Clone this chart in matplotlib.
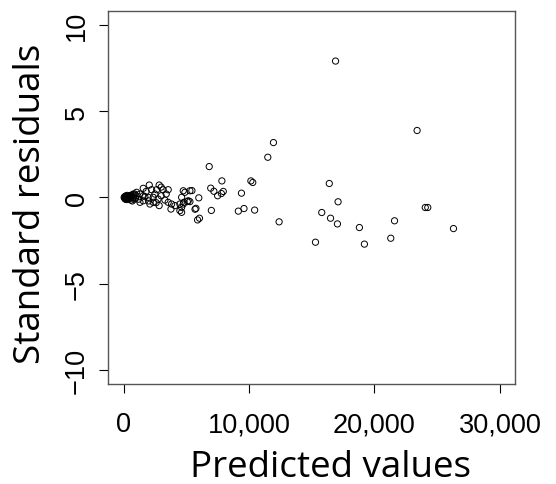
import matplotlib
matplotlib.use("Agg")
import matplotlib.pyplot as plt

# predicted values (thousands) and standardized residuals
pred_k = [
    # dense blob near zero
    0.05, 0.1, 0.1, 0.15, 0.2, 0.25, 0.3, 0.35, 0.4, 0.45, 0.5, 0.55, 0.6, 0.65,
    0.7, 0.75, 0.8, 0.85, 0.2, 0.3, 0.4, 0.5, 0.6, 0.15, 0.25, 0.9, 0.95, 1.0,
    # left cluster
    2.05, 2.84, 1.57, 2.24, 2.64, 3.16, 3.56, 1.04, 1.31, 1.57, 0.51, 0.77,
    1.97, 2.37, 2.76, 3.56, 3.83, 4.1, 1.31, 1.57, 2.1, 2.37, 2.84, 4.49,
    4.81, 5.16, 4.63, 4.89, 4.76, 4.49, 4.63, 3.78, 1.8, 2.5, 3.0, 3.3,
    1.2, 2.0, 2.6, 1.7, 3.0, 3.4,
    # middle
    6.83, 7.84, 6.95, 7.95, 7.8, 7.5, 7.2, 9.4, 6.0, 5.45, 5.29, 5.08, 5.29,
    4.76, 4.63, 9.15, 9.6, 5.7, 7.0, 6.05, 5.9, 5.77,
    # right
    16.9, 23.4, 11.95, 11.5, 10.15, 10.3, 16.4, 17.1, 10.45, 15.8, 16.5, 17.05,
    12.4, 18.8, 15.3, 19.2, 21.3, 21.6, 24.05, 24.25, 26.3,
]
std_resid = [
    0.0, 0.05, -0.05, 0.02, -0.02, 0.06, -0.08, 0.03, -0.1, 0.08, -0.04, 0.12, -0.15, 0.05,
    -0.2, 0.15, 0.0, -0.1, 0.1, 0.12, 0.0, 0.1, 0.02, -0.1, -0.12, 0.2, -0.05, 0.1,
    0.72, 0.72, 0.53, 0.45, 0.45, 0.45, 0.45, 0.3, 0.2, 0.1, 0.1, 0.2,
    0.01, 0.01, -0.09, -0.28, -0.38, -0.47, -0.28, -0.19, -0.38, -0.28, -0.47, -0.38,
    -0.28, -0.19, 0.01, 0.3, 0.39, -0.76, -0.86, -0.67, 0.35, 0.2, 0.1, -0.15,
    -0.1, -0.2, -0.3, 0.05, 0.6, 0.2,
    1.79, 0.96, 0.54, 0.35, 0.23, 0.1, 0.36, 0.25, -0.02, 0.4, -0.24, -0.24, 0.39,
    -0.38, -0.57, -0.79, -0.64, -0.68, -0.75, -1.2, -1.3, -0.63,
    7.9, 3.88, 3.18, 2.33, 0.96, 0.87, 0.81, -0.25, -0.73, -0.87, -1.2, -1.53,
    -1.41, -1.74, -2.59, -2.7, -2.36, -1.35, -0.58, -0.58, -1.8,
]

x_ticks = [0, 10000, 20000, 30000]
x_tick_labels = ["0", "10,000", "20,000", "30,000"]
y_ticks = [-10, -5, 0, 5, 10]
y_tick_labels = ["\u221210", "\u22125", "0", "5", "10"]

pred = [v * 1000 for v in pred_k]

fig = plt.figure(figsize=(5.56, 4.85), dpi=100)
ax = fig.add_axes([0.1951, 0.2062, 0.7311, 0.7691])

ax.scatter(pred, std_resid, s=20, facecolors="none", edgecolors="black", linewidths=0.7)

ax.set_xlim(-1200, 31200)
ax.set_ylim(-10.8, 10.8)

ax.set_xticks(x_ticks)
ax.set_xticklabels(x_tick_labels, fontfamily="Liberation Sans", fontsize=19.5)
ax.set_yticks(y_ticks)
ax.set_yticklabels(y_tick_labels, fontfamily="Liberation Sans", fontsize=19.5,
                   rotation=90, va="center", ha="right")

ax.tick_params(axis="x", direction="out", length=6.5, width=0.8, pad=13)
ax.tick_params(axis="y", direction="out", length=6.5, width=0.8, pad=7)

for sp in ax.spines.values():
    sp.set_color("#555555")
    sp.set_linewidth(1.0)

fig.text(331 / 556, 1 - 477 / 485, "Predicted values", fontfamily="Open Sans",
         fontsize=26.5, ha="center", va="baseline", rotation_mode="anchor")
fig.text(40 / 556, 1 - 204 / 485, "Standard residuals", fontfamily="Open Sans",
         fontsize=26.5, ha="center", va="baseline", rotation=90, rotation_mode="anchor")

fig.savefig("out.png", dpi=100)
